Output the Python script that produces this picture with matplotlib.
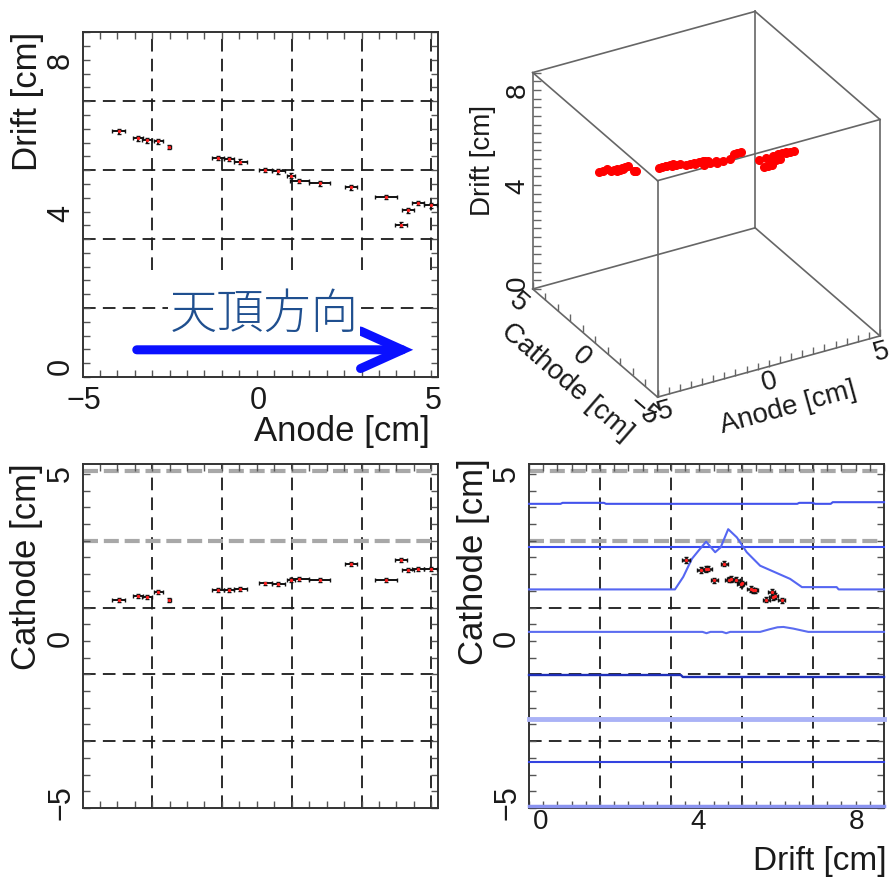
import numpy as np
import matplotlib
matplotlib.use("Agg")
import matplotlib.pyplot as plt
from matplotlib.markers import TICKRIGHT, TICKUP
from mpl_toolkits.mplot3d import proj3d

plt.rcParams['font.family'] = ['Liberation Sans', 'DejaVu Sans']

# ---------------- reconstructed track hits ----------------
# anode centre [cm], anode half-width [cm], drift [cm], cathode [cm]
hit_anode = [-4.01, -3.45, -3.20, -2.87, -2.56, -1.17, -0.85, -0.52, 0.19, 0.57,
             0.93, 1.17, 1.75, 2.65, 3.65, 4.08, 4.27, 4.57, 4.93]
hit_anode_err = [0.19, 0.14, 0.14, 0.14, 0.04, 0.17, 0.15, 0.18, 0.19, 0.19,
                 0.12, 0.27, 0.30, 0.17, 0.31, 0.17, 0.17, 0.18, 0.18]
hit_drift = [6.11, 5.93, 5.88, 5.85, 5.71, 5.42, 5.39, 5.32, 5.10, 5.07,
             4.96, 4.82, 4.76, 4.65, 4.40, 3.68, 4.05, 4.24, 4.18]
hit_cathode = [1.13, 1.26, 1.22, 1.38, 1.15, 1.43, 1.43, 1.47, 1.64, 1.62,
               1.76, 1.78, 1.76, 2.24, 1.74, 2.35, 2.05, 2.09, 2.08]

# ---------------- cathode strip waveforms ----------------
strip_cathode = [4.06, 2.75, 1.46, 0.17, -1.14, -2.48, -3.79, -5.13]
wf1_drift = [-0.3, 0.5, 0.55, 1.6, 1.65, 6.5, 6.55, 6.9, 6.95, 7.35, 7.4, 8.7]
wf1_amp = [0, 0, 0.03, 0.03, 0, 0, 0.03, 0.03, 0, 0, 0.05, 0.05]
wf2_drift = [-0.3, 8.7]
wf2_amp = [0, 0]
wf3_drift = [-0.3, 3.40, 3.61, 3.83, 4.00, 4.19, 4.42, 4.56, 4.75, 4.97, 5.22,
             5.56, 5.94, 6.32, 6.62, 7.50, 7.55, 8.7]
wf3_amp = [0, 0, 0.38, 0.93, 1.18, 1.45, 1.13, 1.28, 1.83, 1.58, 1.13,
           0.72, 0.52, 0.32, 0.07, 0.07, 0, 0]
wf4_drift = [-0.3, 4.1, 4.2, 4.3, 4.6, 4.7, 4.8, 5.56, 5.8, 6.0, 6.15, 6.4, 6.78, 8.7]
wf4_amp = [0, 0, -0.04, 0, 0, -0.04, 0, 0, 0.08, 0.14, 0.15, 0.10, 0, 0]
wf5_drift = [-0.3, 3.55, 3.6, 8.7]
wf5_amp = [0, 0, -0.06, -0.06]
wf6_drift = [-0.3, 8.7]
wf6_amp = [0, 0]
wf7_drift = [-0.3, 8.7]
wf7_amp = [0, 0]
wf8_drift = [-0.3, 8.7]
wf8_amp = [0, 0]
waveforms = [(wf1_drift, wf1_amp), (wf2_drift, wf2_amp), (wf3_drift, wf3_amp),
             (wf4_drift, wf4_amp), (wf5_drift, wf5_amp), (wf6_drift, wf6_amp),
             (wf7_drift, wf7_amp), (wf8_drift, wf8_amp)]

# ---------------- axis ranges, grids, tick labels ----------------
anode_range = (-5.03, 5.14)
drift_range = (-0.3, 8.7)
cathode_range = (-5.15, 5.27)
anode_grid = [-3.05, -1.05, 0.95, 2.95, 4.95]
drift_grid = [1.5, 3.3, 5.1, 6.9]
cathode_grid = [-3.15, -1.12, 0.91, 2.94, 5.05]
anode_ticklabels = [-5, 0, 5]
drift_ticklabels = [0, 4, 8]
cathode_ticklabels = [-5, 0, 5]

anode_minor = np.arange(-4.55, 5.0, 0.5)
drift_minor = np.arange(-0.3, 8.71, 0.36)
cathode_minor = np.arange(-5.18, 5.3, 0.5075)

W, H = 895, 878
fig = plt.figure(figsize=(W / 100, H / 100), dpi=100)


def px_rect(x0, y0, x1, y1):
    return [x0 / W, 1 - y1 / H, (x1 - x0) / W, (y1 - y0) / H]


GRID_KW = dict(color='#1a1a1a', lw=1.3, dashes=(7, 4), zorder=1)
LIGHT_GRID_KW = dict(color='#a8a8a8', lw=3.0, dashes=(3.6, 1.4), zorder=1)
TICK_SIZE = 22
TITLE_SIZE = 25


def style_panel(ax, xlim, ylim, xminor, yminor, xlabels, ylabels, show_xlabels=True):
    ax.set_xlim(*xlim)
    ax.set_ylim(*ylim)
    ax.set_xticks(xlabels)
    ax.set_yticks(ylabels)
    ax.set_xticks(xminor, minor=True)
    ax.set_yticks(yminor, minor=True)
    ax.tick_params(which='both', direction='in', top=True, right=True)
    ax.tick_params(which='major', length=0, labelsize=TICK_SIZE, colors='#1a1a1a')
    ax.tick_params(which='minor', length=5, width=1.0, color='#555555')
    ax.tick_params(axis='x', pad=6, labelbottom=show_xlabels)
    ax.tick_params(axis='y', pad=5, labelrotation=90)
    for lab in ax.get_yticklabels():
        lab.set_va('center')
    for s in ax.spines.values():
        s.set_color('#333333')
        s.set_linewidth(1.4)


def draw_grid(ax, xgrid, ygrid, light_y=(), x_from=0.0):
    for g in xgrid:
        ax.axvline(g, ymin=x_from, **GRID_KW)
    for g in ygrid:
        ax.axhline(g, **(LIGHT_GRID_KW if g in light_y else GRID_KW))


def draw_hits(ax, x, y, xerr, yerr, lw=1.4):
    ax.errorbar(x, y, xerr=xerr, yerr=yerr, fmt='none', ecolor='#111111',
                elinewidth=lw, capsize=1.5, capthick=1.0, zorder=4)
    ax.plot(x, y, 'o', color='#ff2020', ms=2.4, mew=0, zorder=5)


# ---------------- top left: drift vs anode ----------------
ax_tl = fig.add_axes(px_rect(83, 33.3, 438, 378))
style_panel(ax_tl, anode_range, drift_range, anode_minor, drift_minor,
            anode_ticklabels, drift_ticklabels)
draw_grid(ax_tl, anode_grid, drift_grid, x_from=0.31)
draw_hits(ax_tl, hit_anode, hit_drift, hit_anode_err, 0.06)
ax_tl.annotate('', xy=(4.43, 0.41), xytext=(-3.49, 0.41),
               arrowprops=dict(arrowstyle='->,head_length=3.0,head_width=1.35',
                               mutation_scale=10, lw=6.5, color='#0a10ff',
                               shrinkA=0, shrinkB=0, joinstyle='miter'),
               zorder=6)
ax_tl.text(0.16, 1.37, '天頂方向', fontsize=34, color='#1f4f8f',
           family=['Noto Sans CJK JP', 'DejaVu Sans'], fontweight='light',
           ha='center', va='center', zorder=6,
           bbox=dict(facecolor='white', edgecolor='none', pad=1))
ax_tl.set_xlabel('Anode [cm]', fontsize=TITLE_SIZE, color='#1a1a1a', ha='right', va='top')
ax_tl.xaxis.set_label_coords(0.977, -0.106)
ax_tl.set_ylabel('Drift [cm]', fontsize=TITLE_SIZE, color='#1a1a1a', ha='right', va='bottom')
ax_tl.yaxis.set_label_coords(-0.11, 1.005)

# ---------------- bottom left: cathode vs anode ----------------
ax_bl = fig.add_axes(px_rect(83, 465, 438, 809))
style_panel(ax_bl, anode_range, cathode_range, anode_minor, cathode_minor,
            anode_ticklabels, cathode_ticklabels, show_xlabels=False)
draw_grid(ax_bl, anode_grid, cathode_grid, light_y=(2.94, 5.05))
draw_hits(ax_bl, hit_anode, hit_cathode, hit_anode_err, 0.06)
ax_bl.set_ylabel('Cathode [cm]', fontsize=TITLE_SIZE, color='#1a1a1a', ha='right', va='bottom')
ax_bl.yaxis.set_label_coords(-0.113, 1.005)

# ---------------- bottom right: cathode vs drift with strip signals ----------------
ax_br = fig.add_axes(px_rect(529, 465, 884, 809))
style_panel(ax_br, drift_range, cathode_range, drift_minor, cathode_minor,
            drift_ticklabels, cathode_ticklabels)
ax_br.tick_params(axis='x', which='major', labelsize=20, pad=0)
draw_grid(ax_br, drift_grid, cathode_grid, light_y=(2.94, 5.05))
strip_colors = ['#4353ec', '#3a4cf0', '#5566f2', '#5b6cf0',
                '#1f2fb8', '#aab2f6', '#3343e0', '#8a93f0']
strip_widths = [1.5, 1.5, 1.5, 1.5, 1.7, 3.5, 1.5, 2.5]
for base, (d, a), c, lw in zip(strip_cathode, waveforms, strip_colors, strip_widths):
    ax_br.plot(d, np.asarray(a) + base, color=c, lw=lw, zorder=3, clip_on=False)
draw_hits(ax_br, hit_drift, hit_cathode, 0.09, 0.08, lw=1.8)
ax_br.set_xlabel('Drift [cm]', fontsize=24, color='#1a1a1a', ha='right', va='bottom')
ax_br.xaxis.set_label_coords(1.008, -0.1977)
ax_br.set_ylabel('Cathode [cm]', fontsize=TITLE_SIZE, color='#1a1a1a', ha='right', va='bottom')
ax_br.yaxis.set_label_coords(-0.11, 1.02)

# ---------------- top right: 3-D view ----------------
box_anode = (-5, 5)
box_cathode = (-5, 5)
box_drift = drift_range

ax3 = fig.add_axes(px_rect(480, 0, 880, 400), projection='3d')
ax3.set_proj_type('ortho')
ax3.view_init(elev=29.2, azim=-119.4)
ax3.set_box_aspect((1.0, 0.996, 0.971))
ax3.set_xlim(*box_anode)
ax3.set_ylim(*box_cathode)
ax3.set_zlim(*box_drift)
ax3.set_axis_off()
ax3.computed_zorder = False

EDGE_KW = dict(color='#666666', lw=1.2, zorder=1)
for y in box_cathode:
    for z in box_drift:
        ax3.plot(box_anode, [y, y], [z, z], **EDGE_KW)
for x in box_anode:
    for z in box_drift:
        ax3.plot([x, x], box_cathode, [z, z], **EDGE_KW)
for x in box_anode:
    for y in box_cathode:
        ax3.plot([x, x], [y, y], box_drift, **EDGE_KW)

# axis ticks on the three labelled edges
tick_kw = dict(ls='none', color='#666666', mew=1.0, zorder=2)
ax3.plot(np.full(drift_minor.size, box_anode[0]), np.full(drift_minor.size, box_cathode[1]),
         drift_minor, marker=TICKRIGHT, ms=6, **tick_kw)
cath_ticks = np.arange(-5, 5.01, 1.0)
ax3.plot(np.full(cath_ticks.size, box_anode[0]), cath_ticks,
         np.full(cath_ticks.size, box_drift[0]), marker=TICKUP, ms=5, **tick_kw)
an_ticks = np.arange(-5, 5.01, 0.5)
ax3.plot(an_ticks, np.full(an_ticks.size, box_cathode[0]),
         np.full(an_ticks.size, box_drift[0]), marker=TICKUP, ms=5, **tick_kw)

# hits as red dots (centre and both strip edges)
p_an = np.concatenate([np.asarray(hit_anode) - np.asarray(hit_anode_err),
                       np.asarray(hit_anode),
                       np.asarray(hit_anode) + np.asarray(hit_anode_err)])
p_ca = np.tile(hit_cathode, 3)
p_dr = np.tile(hit_drift, 3)
ax3.plot(p_an, p_ca, p_dr, ls='none', marker='o', ms=5.5, color='#ff0000',
         mec='#ff0000', zorder=5)


def corner_px(x, y, z):
    X, Y, _ = proj3d.proj_transform(x, y, z, ax3.M)
    return np.asarray(ax3.transData.transform((X, Y)))


# place the projected box: front-left-bottom corner and right-bottom corner
fig.canvas.draw()
A = corner_px(box_anode[0], box_cathode[1], box_drift[0])
C = corner_px(box_anode[1], box_cathode[0], box_drift[0])
A_goal = np.array([532.7, H - 290.0])
C_goal_x = 880.0
k = (C_goal_x - A_goal[0]) / (C[0] - A[0])
bb = ax3.get_position()
cx, cy = (bb.x0 + bb.width / 2) * W, (bb.y0 + bb.height / 2) * H
side = bb.width * W * k
ncx = A_goal[0] - k * (A[0] - cx)
ncy = A_goal[1] - k * (A[1] - cy)
ax3.set_position([(ncx - side / 2) / W, (ncy - side / 2) / H, side / W, side / H])
fig.canvas.draw()


def label3d(x, y, z, s, direction, dx, dy, size=20):
    p = corner_px(x, y, z)
    q = corner_px(x + direction[0], y + direction[1], z + direction[2])
    ang = np.degrees(np.arctan2(q[1] - p[1], q[0] - p[0]))
    if ang > 90:
        ang -= 180
    elif ang <= -90:
        ang += 180
    fig.text((p[0] + dx) / W, (p[1] + dy) / H, s, rotation=ang, fontsize=size,
             ha='center', va='center', color='#1a1a1a')


for d in drift_ticklabels:
    label3d(box_anode[0], box_cathode[1], d, str(d), (0, 0, 1), -15, 0)
for c in cathode_ticklabels:
    label3d(box_anode[0], c, box_drift[0], str(c).replace('-', '\u2212'),
            (0, -1, 0), -14, -13)
for a in anode_ticklabels:
    label3d(a, box_cathode[0], box_drift[0], str(a).replace('-', '\u2212'),
            (1, 0, 0), 1, -15)
label3d(box_anode[0], box_cathode[1], 5.1, 'Drift [cm]', (0, 0, 1), -50, 0)
label3d(box_anode[0], 0, box_drift[0], 'Cathode [cm]', (0, -1, 0), -28, -38)
label3d(0, box_cathode[0], box_drift[0], 'Anode [cm]', (1, 0, 0), 19, -40)

fig.savefig('out.png', dpi=100)
